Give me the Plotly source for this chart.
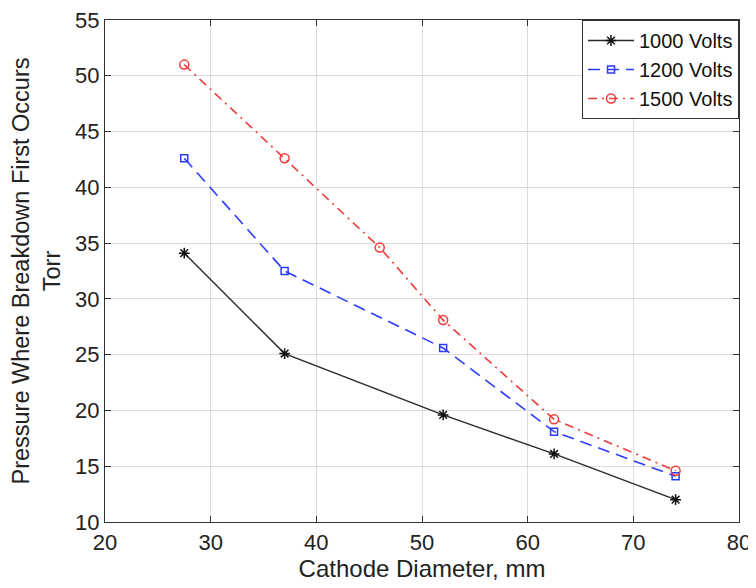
import plotly.graph_objects as go

x_1000 = [27.5, 37, 52, 62.5, 74]
y_1000 = [34.1, 25.1, 19.6, 16.1, 12.0]
x_1200 = [27.5, 37, 52, 62.5, 74]
y_1200 = [42.6, 32.5, 25.6, 18.1, 14.1]
x_1500 = [27.5, 37, 46, 52, 62.5, 74]
y_1500 = [51.0, 42.6, 34.6, 28.1, 19.2, 14.6]
names = ["1000 Volts", "1200 Volts", "1500 Volts"]

font = "Liberation Sans, Arial, Helvetica, sans-serif"

fig = go.Figure()
fig.add_trace(go.Scatter(x=x_1000, y=y_1000, name=names[0], mode="lines+markers",
                         line=dict(color="#2a2a2a", width=1.4),
                         marker=dict(symbol="asterisk", size=9, color="#111",
                                     line=dict(color="#111", width=1.5))))
fig.add_trace(go.Scatter(x=x_1200, y=y_1200, name=names[1], mode="lines+markers",
                         line=dict(color="#2b3cff", width=1.6, dash="12px,7px"),
                         marker=dict(symbol="square-open", size=7, color="#2b3cff",
                                     line=dict(color="#2b3cff", width=1.5))))
fig.add_trace(go.Scatter(x=x_1500, y=y_1500, name=names[2], mode="lines+markers",
                         line=dict(color="#f03a3a", width=1.6, dash="9px,5px,2px,5px"),
                         marker=dict(symbol="circle-open", size=9, color="#f03a3a",
                                     line=dict(color="#f03a3a", width=1.5))))

axis_common = dict(showline=True, linecolor="#333", linewidth=1.2, mirror="ticks",
                   ticks="inside", ticklen=6, tickcolor="#333",
                   showgrid=True, gridcolor="#dcdcdc", gridwidth=1, zeroline=False,
                   automargin=False, ticklabeloverflow="allow",
                   tickfont=dict(family=font, size=22, color="#222"))

fig.update_xaxes(range=[20, 80], dtick=10, tick0=20,
                 title=dict(text="Cathode Diameter, mm", standoff=6,
                            font=dict(family=font, size=24, color="#222")),
                 **axis_common)
fig.update_yaxes(range=[10, 55], dtick=5, tick0=10,
                 title=dict(text="Pressure Where Breakdown First Occurs<br>Torr", standoff=12,
                            font=dict(family=font, size=23.5, color="#222")),
                 **axis_common)

fig.update_layout(
    width=756, height=588,
    margin=dict(l=97, r=25, t=12, b=74, autoexpand=False),
    plot_bgcolor="white", paper_bgcolor="white",
    font=dict(family=font, color="#222"),
    legend=dict(x=1, y=1, xanchor="right", yanchor="top",
                bgcolor="white", bordercolor="#333", borderwidth=1,
                font=dict(family=font, size=20, color="#111"),
                tracegroupgap=0, itemwidth=46),
    showlegend=True,
)

fig.write_html("out.html")
